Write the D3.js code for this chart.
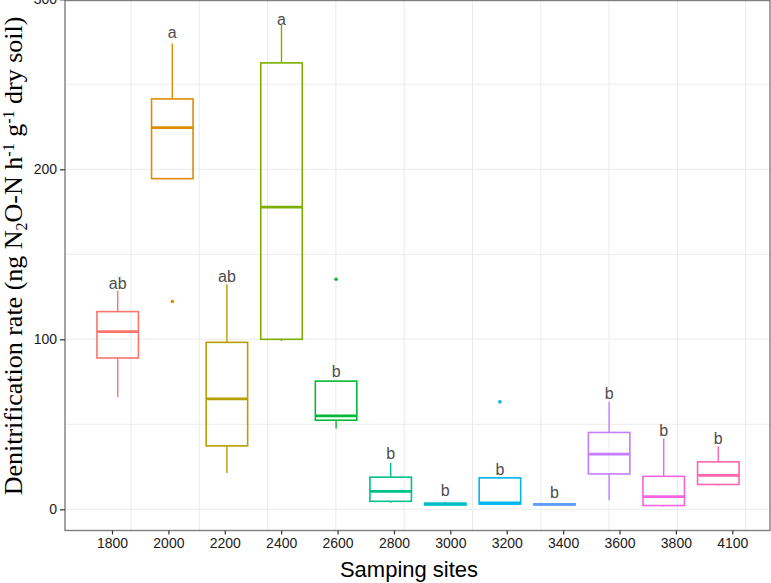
<!DOCTYPE html>
<html>
<head>
<meta charset="utf-8">
<script src="https://cdn.jsdelivr.net/npm/d3@7"></script>
<style>
  html, body { margin: 0; padding: 0; background: #ffffff; }
  svg { display: block; }
</style>
</head>
<body>
<svg id="chart" width="771" height="583"></svg>
<script>
// ---- data ----
const sites = ["1800","2000","2200","2400","2600","2800","3000","3200","3400","3600","3800","4100"];
const whiskerLow  = [66.0, 194.5, 21.4, 99.0, 47.5, 3.9, 2.6, 3.1, 2.6, 5.3, 1.6, 14.0];
const q1          = [89.0, 194.5, 37.3, 100.0, 52.4, 4.7, 2.6, 3.1, 2.6, 20.8, 2.2, 14.6];
const medians     = [104.5, 224.5, 65.0, 177.8, 55.0, 10.6, 3.1, 3.7, 2.9, 32.4, 7.5, 20.0];
const q3          = [116.3, 241.4, 98.2, 262.6, 75.4, 18.9, 3.6, 18.5, 3.2, 45.2, 19.4, 27.9];
const whiskerHigh = [128.6, 274.0, 132.4, 285.2, 75.4, 27.3, 4.5, 18.5, 3.2, 63.2, 41.7, 37.1];
const outlierSites  = ["2000", "2600", "3200"];
const outlierValues = [122.2, 135.3, 63.2];
const letters     = ["ab","a","ab","a","b","b","b","b","b","b","b","b"];
const letterAt    = [133.4, 280.7, 137.3, 288.7, 81.3, 33.0, 11.2, 23.6, 10.2, 68.2, 46.6, 41.7];
const yTicks      = [0, 100, 200, 300];
const yMinorTicks = [50, 150, 250];
const colors = ["#F8766D","#DE8C00","#B79F00","#7CAE00","#00BA38","#00C08B",
                "#00BFC4","#00B4F0","#619CFF","#C77CFF","#F564E3","#FF64B0"];

// ---- layout ----
const svg = d3.select("#chart");
const panel = { left: 65, right: 770, top: 0.5, bottom: 530.5 };

const y = d3.scaleLinear().domain([0, 300]).range([509.3, -0.7]);
const x = d3.scalePoint().domain(sites).range([117.7, 718.3]);
const boxW = x.step() * 0.76;
const xTick = d3.scalePoint().domain(sites).range([112, 732.3]);
const color = d3.scaleOrdinal().domain(sites).range(colors);
// vertical background grid (independent of the categories in the original figure)
const gridX = d3.scaleLinear().domain([0, 9]).range([131, 745.7]);

const g = svg.append("g");

// grid
g.selectAll("line.hgrid").data(yTicks.concat(yMinorTicks)).enter().append("line")
  .attr("x1", panel.left).attr("x2", panel.right)
  .attr("y1", d => y(d)).attr("y2", d => y(d))
  .attr("stroke", "#ebebeb").attr("stroke-width", d => yTicks.includes(d) ? 1.1 : 0.9);
g.selectAll("line.vgrid").data(d3.range(10)).enter().append("line")
  .attr("x1", d => gridX(d)).attr("x2", d => gridX(d))
  .attr("y1", panel.top).attr("y2", panel.bottom)
  .attr("stroke", "#ebebeb").attr("stroke-width", 1);

// panel border
g.append("rect")
  .attr("x", panel.left).attr("y", panel.top)
  .attr("width", panel.right - panel.left).attr("height", panel.bottom - panel.top)
  .attr("fill", "none").attr("stroke", "#7f7f7f").attr("stroke-width", 1.4);

// boxes
const boxes = g.selectAll("g.box").data(sites).enter().append("g");
boxes.each(function(s, i) {
  const sel = d3.select(this);
  const cx = x(s), c = color(s);
  if (whiskerHigh[i] > q3[i])
    sel.append("line").attr("x1", cx).attr("x2", cx)
      .attr("y1", y(q3[i])).attr("y2", y(whiskerHigh[i]))
      .attr("stroke", c).attr("stroke-width", 1.4);
  if (whiskerLow[i] < q1[i])
    sel.append("line").attr("x1", cx).attr("x2", cx)
      .attr("y1", y(q1[i])).attr("y2", y(whiskerLow[i]))
      .attr("stroke", c).attr("stroke-width", 1.4);
  sel.append("rect")
    .attr("x", cx - boxW / 2).attr("width", boxW)
    .attr("y", y(q3[i])).attr("height", Math.max(0.01, y(q1[i]) - y(q3[i])))
    .attr("fill", "#ffffff").attr("fill-opacity", 0)
    .attr("stroke", c).attr("stroke-width", 1.6);
  sel.append("line")
    .attr("x1", cx - boxW / 2).attr("x2", cx + boxW / 2)
    .attr("y1", y(medians[i])).attr("y2", y(medians[i]))
    .attr("stroke", c).attr("stroke-width", 2.8);
});

// outliers
g.selectAll("circle.out").data(outlierSites).enter().append("circle")
  .attr("cx", d => x(d)).attr("cy", (d, i) => y(outlierValues[i]))
  .attr("r", 1.8).attr("fill", d => color(d));

// significance letters
g.selectAll("text.letter").data(sites).enter().append("text")
  .attr("x", d => x(d)).attr("y", (d, i) => y(letterAt[i]))
  .attr("dy", "0.38em")
  .attr("text-anchor", "middle")
  .attr("font-family", "Liberation Sans, Arial, sans-serif")
  .attr("font-size", 16).attr("fill", "#4d4d4d")
  .text((d, i) => letters[i]);

// y axis
const yAxis = g.append("g").attr("transform", `translate(${panel.left},0)`)
  .call(d3.axisLeft(y).tickValues(yTicks).tickSize(5).tickPadding(3).tickFormat(d3.format("d")));
yAxis.select(".domain").remove();
yAxis.selectAll("line").attr("stroke", "#333333").attr("stroke-width", 1.2);
yAxis.selectAll("text").attr("font-family", "Liberation Sans, Arial, sans-serif")
  .attr("font-size", 14).attr("fill", "#1a1a1a");

// x axis
const xAxis = g.append("g").attr("transform", `translate(0,${panel.bottom})`)
  .call(d3.axisBottom(xTick).tickSize(4).tickPadding(4));
xAxis.select(".domain").remove();
xAxis.selectAll("line").attr("stroke", "#333333").attr("stroke-width", 1.2);
xAxis.selectAll("text").attr("font-family", "Liberation Sans, Arial, sans-serif")
  .attr("font-size", 14).attr("fill", "#1a1a1a");

// axis titles
svg.append("text")
  .attr("x", 409).attr("y", 577)
  .attr("text-anchor", "middle")
  .attr("font-family", "Liberation Sans, Arial, sans-serif")
  .attr("font-size", 22).attr("fill", "#000")
  .text("Samping sites");

const yt = svg.append("text")
  .attr("transform", "translate(22,256) rotate(-90)")
  .attr("text-anchor", "middle")
  .attr("font-family", "Liberation Serif, Times New Roman, serif")
  .attr("font-size", 26).attr("fill", "#000");
yt.append("tspan").text("Denitrification rate (ng N");
yt.append("tspan").attr("font-size", 16).attr("dy", 5).text("2");
yt.append("tspan").attr("dy", -5).text("O-N h");
yt.append("tspan").attr("font-size", 16).attr("dy", -8).text("-1");
yt.append("tspan").attr("dy", 8).text(" g");
yt.append("tspan").attr("font-size", 16).attr("dy", -8).text("-1");
yt.append("tspan").attr("dy", 8).text(" dry soil)");
</script>
</body>
</html>
